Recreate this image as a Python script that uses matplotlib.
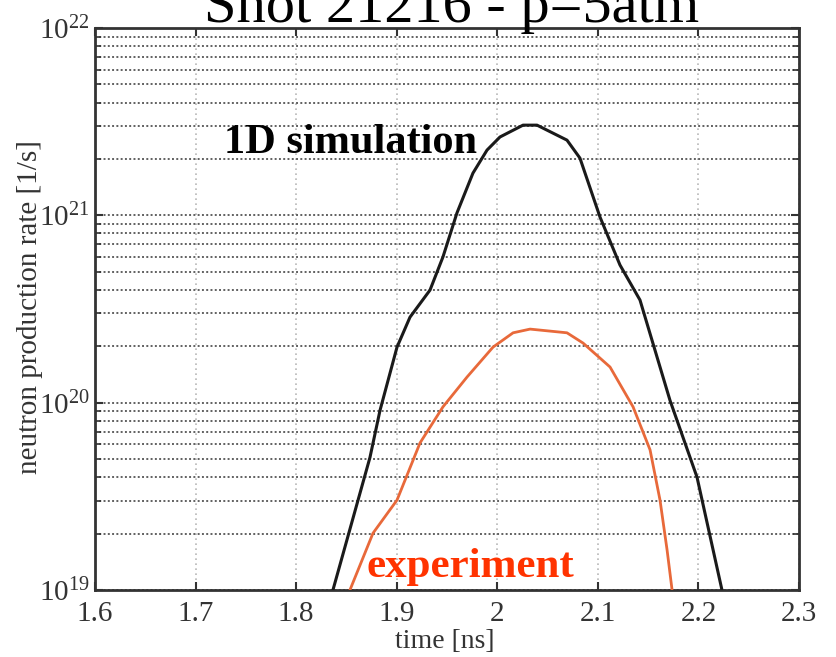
import matplotlib
matplotlib.use("Agg")
import matplotlib.pyplot as plt
from matplotlib.ticker import LogLocator, NullFormatter

plt.rcParams['font.family'] = ['Liberation Serif', 'DejaVu Serif']
plt.rcParams['mathtext.fontset'] = 'stix'

# Werte
t_sim = [1.8366, 1.8734, 1.8834, 1.9003, 1.9132, 1.9331, 1.9460, 1.9599, 1.9758,
         1.9898, 2.0027, 2.0256, 2.0395, 2.0693, 2.0822, 2.1021, 2.1220, 2.1419,
         2.1717, 2.1986, 2.2234]
rate_sim = [1.0e19, 5.1e19, 9.1e19, 1.98e20, 2.86e20, 3.99e20, 6.0e20, 1.03e21, 1.68e21,
            2.23e21, 2.62e21, 3.03e21, 3.03e21, 2.52e21, 2.02e21, 9.8e20, 5.43e20, 3.53e20,
            1.03e20, 4.0e19, 1.0e19]

t_exp = [1.8535, 1.8764, 1.9003, 1.9232, 1.9460, 1.9699, 1.9958, 2.0157, 2.0326,
         2.0693, 2.0853, 2.1121, 2.1350, 2.1519, 2.1618, 2.1688, 2.1738]
rate_exp = [1.0e19, 2.01e19, 3.02e19, 6.1e19, 9.5e19, 1.37e20, 1.98e20, 2.36e20, 2.47e20,
            2.36e20, 2.08e20, 1.55e20, 9.5e19, 5.6e19, 3.02e19, 1.64e19, 1.0e19]

x_ticks = [1.6, 1.7, 1.8, 1.9, 2.0, 2.1, 2.2, 2.3]
x_ticklabels = ["1.6", "1.7", "1.8", "1.9", "2", "2.1", "2.2", "2.3"]

fig = plt.figure(figsize=(8.37, 6.57), dpi=100)
ax = fig.add_axes([95/837, 1-590/657, 704/837, 562/657])

ax.plot(t_sim, rate_sim, color="#1a1a1a", lw=2.2, zorder=3, solid_joinstyle="round")
ax.plot(t_exp, rate_exp, color="#e8693a", lw=2.0, zorder=3, solid_joinstyle="round")

ax.set_yscale("log")
ax.set_xlim(1.6, 2.3)
ax.set_ylim(1e19, 1e22)
ax.set_xticks(x_ticks)
ax.set_xticklabels(x_ticklabels)
ax.yaxis.set_major_locator(LogLocator(base=10, numticks=10))
ax.yaxis.set_minor_locator(LogLocator(base=10, subs=range(2, 10), numticks=20))
ax.yaxis.set_minor_formatter(NullFormatter())

# Gitter wie in MATLAB
ax.grid(True, which="major", axis="x", linestyle=(0, (1, 2)), color="#b8b8b8", lw=1.2)
ax.grid(True, which="both", axis="y", linestyle=(0, (1, 1.2)), color="#606060", lw=1.4)
ax.set_axisbelow(True)

ax.tick_params(axis="both", which="both", direction="in", top=True, right=True,
               labelsize=21, labelcolor="#333333", color="#333333")
ax.tick_params(axis="x", which="major", length=6, width=1.5, pad=8)
ax.tick_params(axis="y", which="major", length=6, width=1.5, pad=4)
ax.tick_params(axis="y", which="minor", length=4, width=1.2)
for s in ax.spines.values():
    s.set_linewidth(2.0)
    s.set_color("#333333")

fig.text(224/837, 1-153/657, "1D simulation", fontsize=30.5, fontweight="bold",
         color="black", ha="left", va="baseline")
fig.text(367/837, 1-577/657, "experiment", fontsize=31, fontweight="bold",
         color="#ff3300", ha="left", va="baseline")

# Titel ist im Original oben abgeschnitten
fig.text(452/837, 1-22/657, "Shot 21216 - p=5atm", fontsize=42, ha="center", va="baseline")
fig.text(30/837, 1-307/657, "neutron production rate [1/s]", fontsize=21, rotation=90,
         ha="center", va="center", color="#333333")
fig.text(445/837, 1-641/657, "time [ns]", fontsize=20, ha="center", va="center",
         color="#333333")

plt.savefig("out.png", dpi=100)
